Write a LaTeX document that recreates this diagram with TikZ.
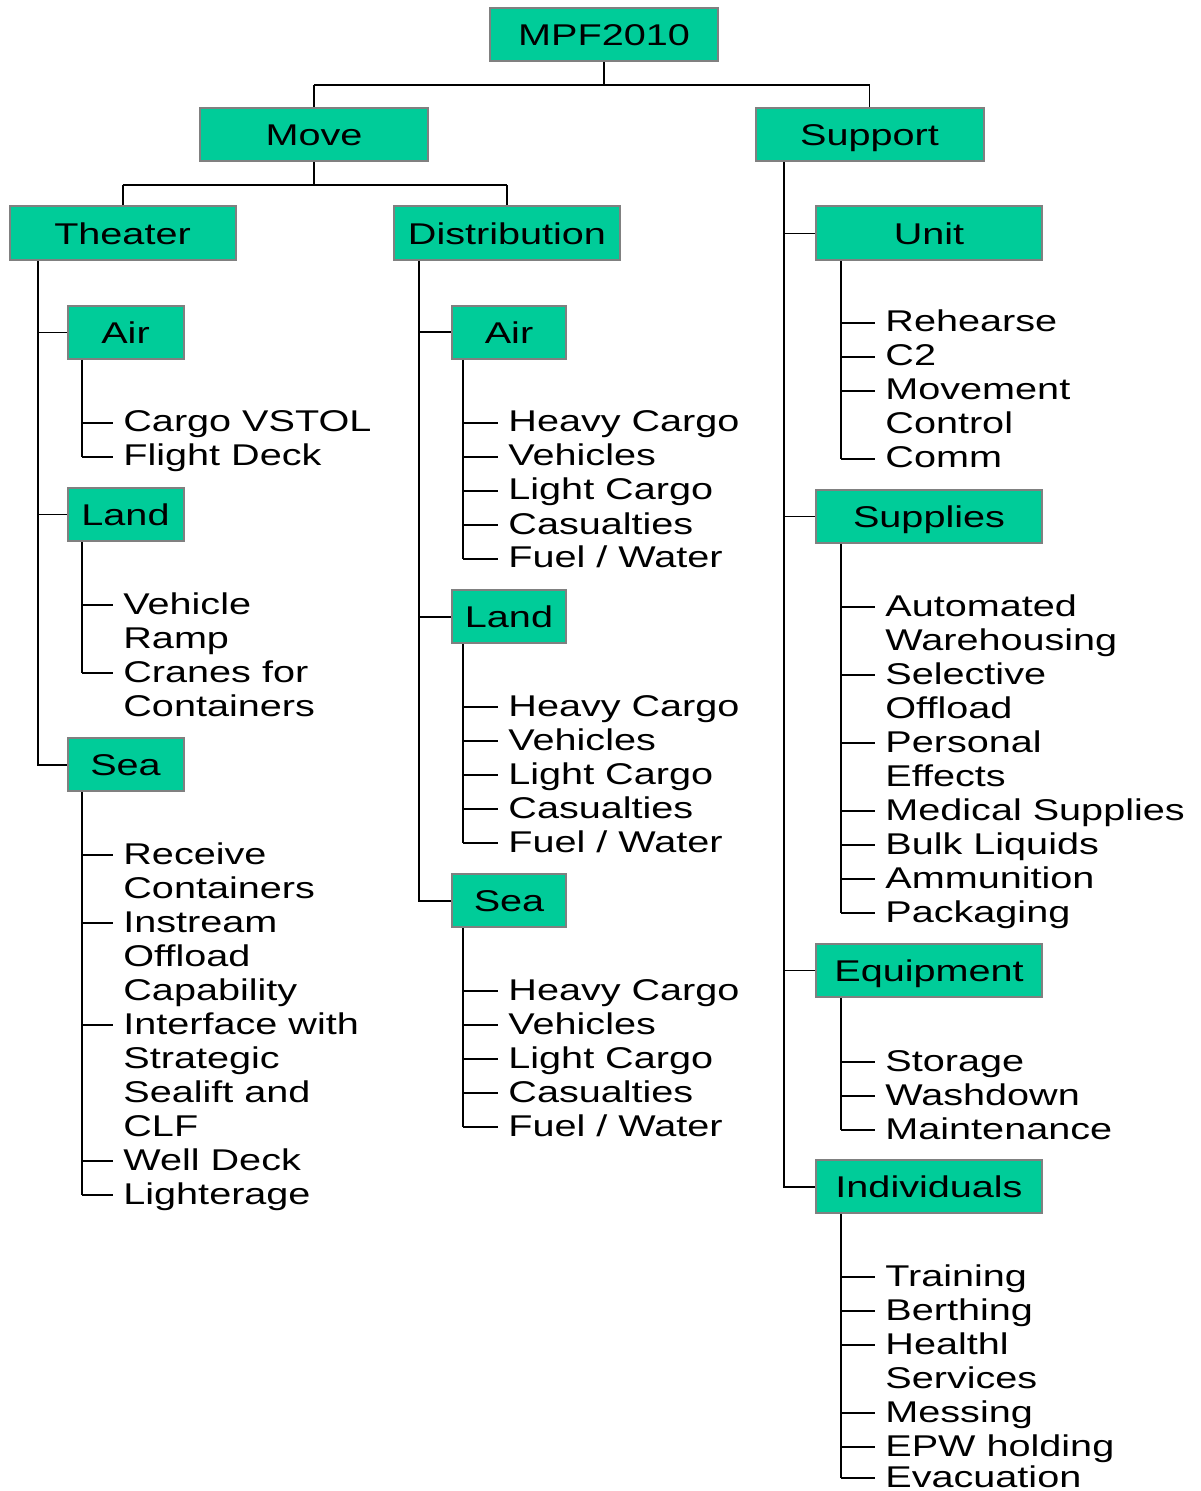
\documentclass[tikz,border=0pt]{standalone}
\usepackage{fontspec}
\setmainfont{Liberation Sans}
\usepackage{graphicx}
\usetikzlibrary{calc}
\definecolor{boxfill}{RGB}{0,204,153}
\definecolor{boxline}{RGB}{128,128,128}
\newcommand\widetxt[1]{\scalebox{1.32}[1]{#1}}
\newcommand\itemlines[1]{\raisebox{-4.5pt}{\scalebox{1.32}[1]{\vtop{\baselineskip=17pt\lineskiplimit=-20pt\lineskip=0pt #1}}}}
\begin{document}
\begin{tikzpicture}[x=0.5pt,y=-0.5pt,
  box/.style={draw=boxline, line width=1pt, fill=boxfill, inner sep=0pt,
    text height=10.75pt, text depth=0pt, font=\fontsize{15pt}{17pt}\selectfont},
  bigbox/.style={box, minimum width=114pt, minimum height=26.5pt},
  midbox/.style={box, minimum width=113pt, minimum height=27pt},
  sidebox/.style={box, minimum width=113pt, minimum height=26.5pt},
  smallbox/.style={box, minimum width=58pt, minimum height=26.5pt},
  leaf/.style={anchor=base west, inner xsep=5pt, inner ysep=0pt,
    font=\fontsize{15pt}{17pt}\selectfont},
  main/.style={line width=1pt},
  tick/.style={line width=0.6pt}]
\useasboundingbox (0,0) rectangle (1200,1491);

% ---------- boxes ----------
\node[bigbox] (mpf) at (604,34.5) {\widetxt{MPF2010}};
\node[bigbox] (move) at (314,134.5) {\widetxt{Move}};
\node[bigbox] (support) at (869.5,134.5) {\widetxt{Support}};
\node[midbox] (theater) at (122.5,233.5) {\widetxt{Theater}};
\node[midbox] (distribution) at (507,233.5) {\widetxt{Distribution}};
\node[midbox] (unit) at (929,233.5) {\widetxt{Unit}};
\node[smallbox] (tair) at (125.5,332.5) {\widetxt{Air}};
\node[smallbox] (tland) at (125.5,514.5) {\widetxt{Land}};
\node[smallbox] (tsea) at (125.5,764.5) {\widetxt{Sea}};
\node[smallbox, minimum width=57pt] (dair) at (509,332.5) {\widetxt{Air}};
\node[smallbox, minimum width=57pt] (dland) at (509,616.5) {\widetxt{Land}};
\node[smallbox, minimum width=57pt] (dsea) at (509,900.5) {\widetxt{Sea}};
\node[sidebox] (supplies) at (929,516.5) {\widetxt{Supplies}};
\node[sidebox] (equipment) at (929,970.5) {\widetxt{Equipment}};
\node[sidebox] (individuals) at (929,1186.5) {\widetxt{Individuals}};

% ---------- top connectors ----------
\coordinate (j0) at (604,85);
\draw[main] (mpf.south) -- (j0);
\draw[main] (j0 -| move.north) -- (j0 -| support.north);
\draw[tick] (j0 -| move.north) -- (move.north);
\draw[tick] (j0 -| support.north) -- (support.north);

\coordinate (j1) at (314,185);
\draw[main] (move.south) -- (j1);
\draw[main] (j1 -| theater.north) -- (j1 -| distribution.north);
\draw[main] (j1 -| theater.north) -- (theater.north);
\draw[main] (j1 -| distribution.north) -- (distribution.north);

% ---------- trunks ----------
\coordinate (thT) at ($(theater.south west)+(29,0)$);
\draw[main] (thT) -- (thT |- tsea.west) -- (tsea.west);
\draw[tick] (thT |- tair.west) -- (tair.west);
\draw[tick] (thT |- tland.west) -- (tland.west);

\coordinate (diT) at ($(distribution.south west)+(26,0)$);
\draw[main] (diT) -- (diT |- dsea.west) -- (dsea.west);
\draw[main] (diT |- dair.west) -- (dair.west);
\draw[main] (diT |- dland.west) -- (dland.west);

\coordinate (suT) at ($(support.south west)+(29,0)$);
\draw[main] (suT) -- (suT |- individuals.west) -- (individuals.west);
\draw[tick] (suT |- unit.west) -- (unit.west);
\draw[tick] (suT |- supplies.west) -- (supplies.west);
\draw[tick] (suT |- equipment.west) -- (equipment.west);

% ---------- Theater / Air ----------
\node[leaf] (ta1) at (113,423) {\itemlines{\hbox{Cargo VSTOL}}};
\node[leaf] (ta2) at (113,457) {\itemlines{\hbox{Flight Deck}}};
\coordinate (taT) at ($(tair.south west)+(15,0)$);
\draw[main] (taT) -- (taT |- ta2.base west);
\foreach \n in {ta1,ta2} \draw[tick] (taT |- \n.base west) -- (\n.base west);

% ---------- Theater / Land ----------
\node[leaf] (tl1) at (113,605) {\itemlines{\hbox{Vehicle}\hbox{Ramp}}};
\node[leaf] (tl2) at (113,673) {\itemlines{\hbox{Cranes for}\hbox{Containers}}};
\coordinate (tlT) at ($(tland.south west)+(15,0)$);
\draw[main] (tlT) -- (tlT |- tl2.base west);
\foreach \n in {tl1,tl2} \draw[tick] (tlT |- \n.base west) -- (\n.base west);

% ---------- Theater / Sea ----------
\node[leaf] (ts1) at (113,855) {\itemlines{\hbox{Receive}\hbox{Containers}}};
\node[leaf] (ts2) at (113,923) {\itemlines{\hbox{Instream}\hbox{Offload}\hbox{Capability}}};
\node[leaf] (ts3) at (113,1025) {\itemlines{\hbox{Interface with}\hbox{Strategic}\hbox{Sealift and}\hbox{CLF}}};
\node[leaf] (ts4) at (113,1161) {\itemlines{\hbox{Well Deck}}};
\node[leaf] (ts5) at (113,1195) {\itemlines{\hbox{Lighterage}}};
\coordinate (tsT) at ($(tsea.south west)+(15,0)$);
\draw[main] (tsT) -- (tsT |- ts5.base west);
\foreach \n in {ts1,ts2,ts3,ts4,ts5} \draw[tick] (tsT |- \n.base west) -- (\n.base west);

% ---------- Distribution / Air ----------
\node[leaf] (da1) at (498,423) {\itemlines{\hbox{Heavy Cargo}}};
\node[leaf] (da2) at (498,457) {\itemlines{\hbox{Vehicles}}};
\node[leaf] (da3) at (498,491) {\itemlines{\hbox{Light Cargo}}};
\node[leaf] (da4) at (498,525) {\itemlines{\hbox{Casualties}}};
\node[leaf] (da5) at (498,559) {\itemlines{\hbox{Fuel / Water}}};
\coordinate (daT) at ($(dair.south west)+(12,0)$);
\draw[main] (daT) -- (daT |- da5.base west);
\foreach \n in {da1,da2,da3,da4,da5} \draw[main] (daT |- \n.base west) -- (\n.base west);

% ---------- Distribution / Land ----------
\node[leaf] (dl1) at (498,707) {\itemlines{\hbox{Heavy Cargo}}};
\node[leaf] (dl2) at (498,741) {\itemlines{\hbox{Vehicles}}};
\node[leaf] (dl3) at (498,775) {\itemlines{\hbox{Light Cargo}}};
\node[leaf] (dl4) at (498,809) {\itemlines{\hbox{Casualties}}};
\node[leaf] (dl5) at (498,843) {\itemlines{\hbox{Fuel / Water}}};
\coordinate (dlT) at ($(dland.south west)+(12,0)$);
\draw[main] (dlT) -- (dlT |- dl5.base west);
\foreach \n in {dl1,dl2,dl3,dl4,dl5} \draw[main] (dlT |- \n.base west) -- (\n.base west);

% ---------- Distribution / Sea ----------
\node[leaf] (ds1) at (498,991) {\itemlines{\hbox{Heavy Cargo}}};
\node[leaf] (ds2) at (498,1025) {\itemlines{\hbox{Vehicles}}};
\node[leaf] (ds3) at (498,1059) {\itemlines{\hbox{Light Cargo}}};
\node[leaf] (ds4) at (498,1093) {\itemlines{\hbox{Casualties}}};
\node[leaf] (ds5) at (498,1127) {\itemlines{\hbox{Fuel / Water}}};
\coordinate (dsT) at ($(dsea.south west)+(12,0)$);
\draw[main] (dsT) -- (dsT |- ds5.base west);
\foreach \n in {ds1,ds2,ds3,ds4,ds5} \draw[main] (dsT |- \n.base west) -- (\n.base west);

% ---------- Unit ----------
\node[leaf] (u1) at (875,323) {\itemlines{\hbox{Rehearse}}};
\node[leaf] (u2) at (875,357) {\itemlines{\hbox{C2}}};
\node[leaf] (u3) at (875,391) {\itemlines{\hbox{Movement}\hbox{Control}}};
\node[leaf] (u4) at (875,459) {\itemlines{\hbox{Comm}}};
\coordinate (uT) at ($(unit.south west)+(26,0)$);
\draw[main] (uT) -- (uT |- u4.base west);
\foreach \n in {u1,u2,u3,u4} \draw[tick] (uT |- \n.base west) -- (\n.base west);

% ---------- Supplies ----------
\node[leaf] (s1) at (875,607) {\itemlines{\hbox{Automated}\hbox{Warehousing}}};
\node[leaf] (s2) at (875,675) {\itemlines{\hbox{Selective}\hbox{Offload}}};
\node[leaf] (s3) at (875,743) {\itemlines{\hbox{Personal}\hbox{Effects}}};
\node[leaf] (s4) at (875,811) {\itemlines{\hbox{Medical Supplies}}};
\node[leaf] (s5) at (875,845) {\itemlines{\hbox{Bulk Liquids}}};
\node[leaf] (s6) at (875,879) {\itemlines{\hbox{Ammunition}}};
\node[leaf] (s7) at (875,913) {\itemlines{\hbox{Packaging}}};
\coordinate (sT) at ($(supplies.south west)+(26,0)$);
\draw[main] (sT) -- (sT |- s7.base west);
\foreach \n in {s1,s2,s3,s4,s5,s6,s7} \draw[tick] (sT |- \n.base west) -- (\n.base west);

% ---------- Equipment ----------
\node[leaf] (e1) at (875,1062) {\itemlines{\hbox{Storage}}};
\node[leaf] (e2) at (875,1096) {\itemlines{\hbox{Washdown}}};
\node[leaf] (e3) at (875,1130) {\itemlines{\hbox{Maintenance}}};
\coordinate (eT) at ($(equipment.south west)+(26,0)$);
\draw[main] (eT) -- (eT |- e3.base west);
\foreach \n in {e1,e2,e3} \draw[tick] (eT |- \n.base west) -- (\n.base west);

% ---------- Individuals ----------
\node[leaf] (i1) at (875,1277) {\itemlines{\hbox{Training}}};
\node[leaf] (i2) at (875,1311) {\itemlines{\hbox{Berthing}}};
\node[leaf] (i3) at (875,1345) {\itemlines{\hbox{Healthl}\hbox{Services}}};
\node[leaf] (i4) at (875,1413) {\itemlines{\hbox{Messing}}};
\node[leaf] (i5) at (875,1447) {\itemlines{\hbox{EPW holding}}};
\node[leaf] (i6) at (875,1478) {\itemlines{\hbox{Evacuation}}};
\coordinate (iT) at ($(individuals.south west)+(26,0)$);
\draw[main] (iT) -- (iT |- i6.base west);
\foreach \n in {i1,i2,i3,i4,i5,i6} \draw[tick] (iT |- \n.base west) -- (\n.base west);
\end{tikzpicture}
\end{document}
